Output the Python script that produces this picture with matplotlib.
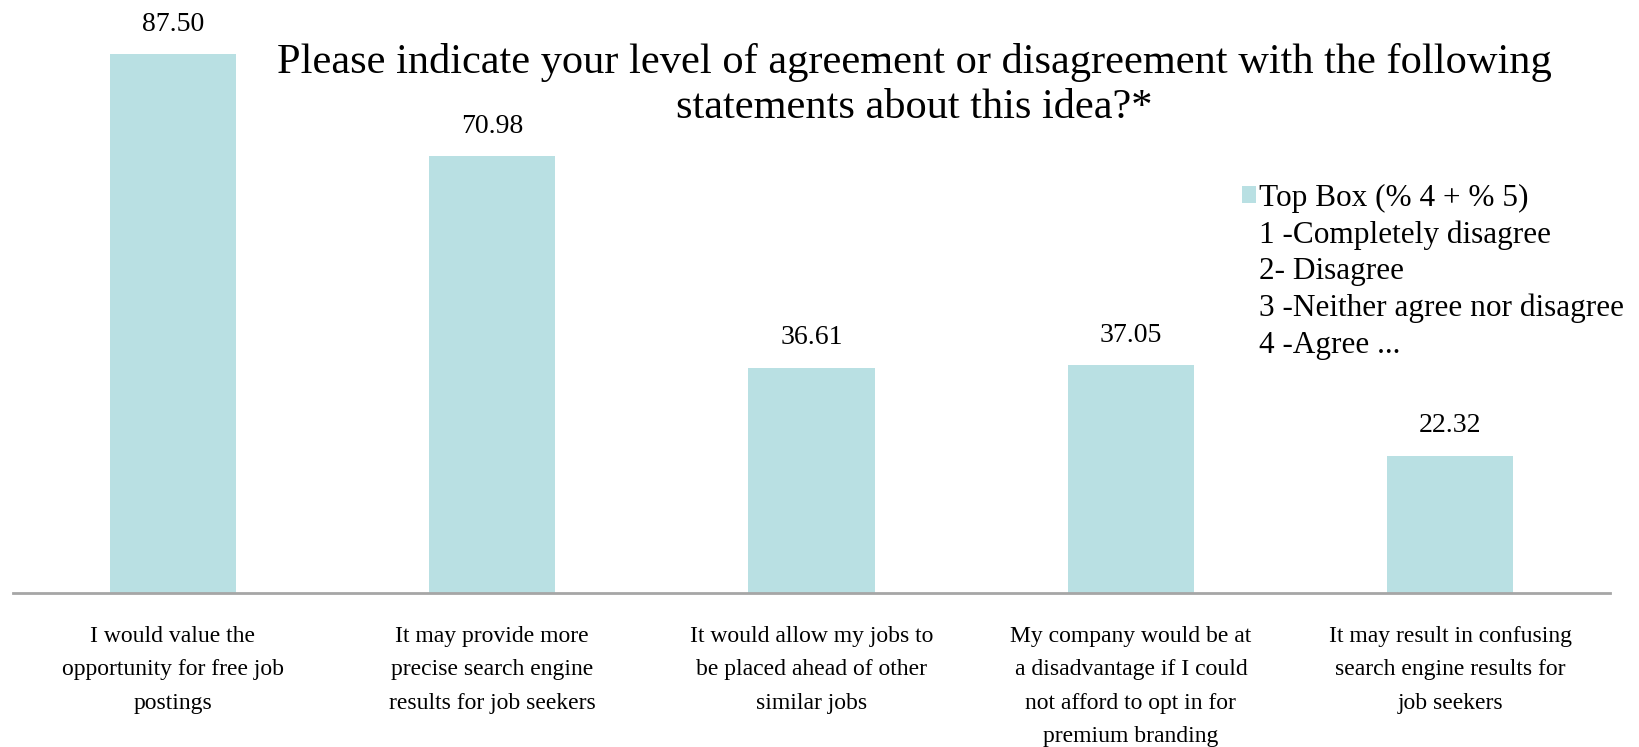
import matplotlib.pyplot as plt
from matplotlib.patches import Patch

plt.rcParams['font.family'] = ['Liberation Serif', 'DejaVu Serif']

statements = [
    "I would value the\nopportunity for free job\npostings",
    "It may provide more\nprecise search engine\nresults for job seekers",
    "It would allow my jobs to\nbe placed ahead of other\nsimilar jobs",
    "My company would be at\na disadvantage if I could\nnot afford to opt in for\npremium branding",
    "It may result in confusing\nsearch engine results for\njob seekers",
]
top_box = [87.50, 70.98, 36.61, 37.05, 22.32]
legend_labels = [
    "Top Box (% 4 + % 5)",
    "1 -Completely disagree",
    "2- Disagree",
    "3 -Neither agree nor disagree",
    "4 -Agree ...",
]
title_lines = [
    "Please indicate your level of agreement or disagreement with the following",
    "statements about this idea?*",
]

bar_color = "#B9E0E3"

fig = plt.figure(figsize=(16.39, 7.47), dpi=100)
ax = fig.add_axes([13 / 1639, 154 / 747, 1597 / 1639, 585 / 747])

x = range(len(statements))
ax.bar(x, top_box, width=0.395, color=bar_color, edgecolor="none")
for xi, v in zip(x, top_box):
    ax.text(xi, v + 2.8, f"{v:.2f}", ha="center", va="bottom", fontsize=20)

ax.set_xlim(-0.5, len(statements) - 0.5)
ax.set_ylim(0, 95)
ax.set_yticks([])
ax.set_xticks(list(x))
ax.set_xticklabels(statements, fontsize=17, linespacing=1.76)
ax.tick_params(axis="x", length=0, pad=24)
for side in ("top", "right", "left"):
    ax.spines[side].set_visible(False)
ax.spines["bottom"].set_color("#A6A6A6")
ax.spines["bottom"].set_linewidth(2)

# two-line title, one text per line
for i, line in enumerate(title_lines):
    fig.text(0.558, 1 - (62 + 46 * i) / 747, line, ha="center", va="center",
             fontsize=30.5)

handles = [Patch(facecolor=bar_color, edgecolor="none")]
handles += [Patch(facecolor="none", edgecolor="none") for _ in legend_labels[1:]]
leg = ax.legend(handles, legend_labels, loc="upper left",
                bbox_to_anchor=(1226 / 1639, 0.775), bbox_transform=fig.transFigure,
                frameon=False, fontsize=22.5, handlelength=0.45, handleheight=0.45,
                handletextpad=0.12, labelspacing=0.24, borderpad=0)

fig.savefig("out.png", dpi=100)
